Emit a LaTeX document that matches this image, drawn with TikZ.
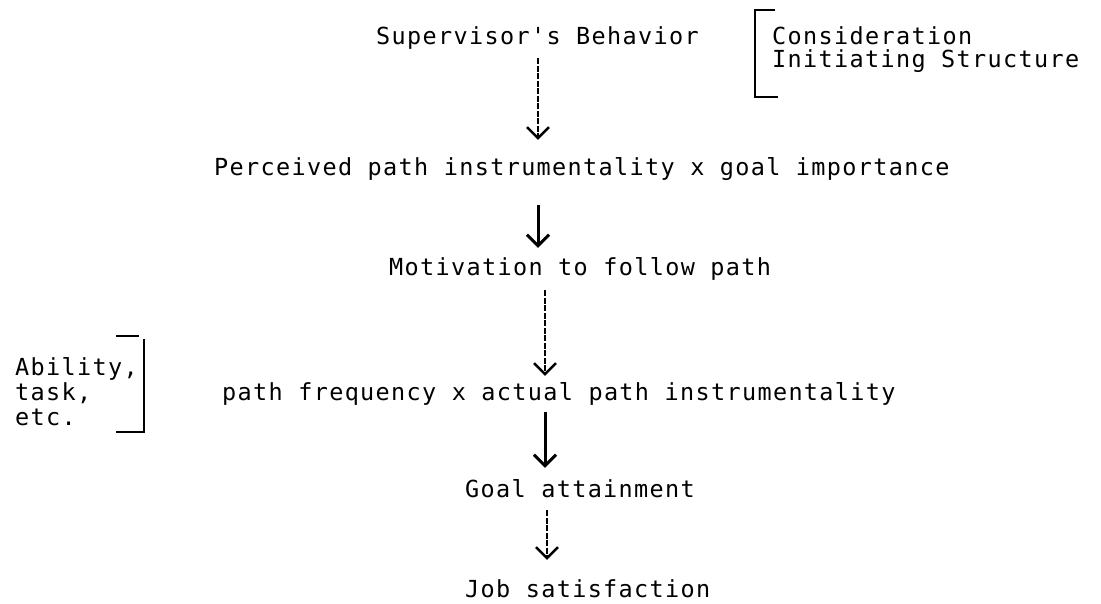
\documentclass[tikz,border=0pt]{standalone}
\usepackage{fontspec}
\newfontfamily\typew[LetterSpace=5.7]{DejaVu Sans Mono}
\usetikzlibrary{arrows.meta}
\begin{document}
\begin{tikzpicture}[x=1pt,y=-1pt,
  txt/.style={anchor=base west, inner sep=0pt, text height=18pt, text depth=5pt,
              font=\typew\fontsize{23.5}{28}\selectfont},
  thinarrow/.style={line width=1.4pt, dash pattern=on 6pt off 1.5pt,
              -{Straight Barb[length=11pt,width=22pt,line width=2.4pt]}},
  thickarrow/.style={line width=3pt,
              -{Straight Barb[length=11pt,width=22pt,line width=3pt]}},
  brk/.style={line width=2pt}]
\useasboundingbox[fill=white] (0,0) rectangle (1101,604);

% text lines
\node[txt] (sup)  at (376,45)  {Supervisor's Behavior};
\node[txt] (cons) at (772,45)  {Consideration};
\node[txt] (init) at (772,68)  {Initiating Structure};
\node[txt] (perc) at (214,176) {Perceived path instrumentality x goal importance};
\node[txt] (mot)  at (389,276) {Motivation to follow path};
\node[txt] (abil) at (15,375)  {Ability,};
\node[txt] (task) at (15,400)  {task,};
\node[txt] (etc)  at (15,425)  {etc.};
\node[txt] (freq) at (222,400) {path frequency x actual path instrumentality};
\node[txt] (goal) at (465,497) {Goal attainment};
\node[txt] (job)  at (465,597) {Job satisfaction};

% arrow columns
\coordinate (c1) at (538,0);
\coordinate (c3) at (545,0);
\coordinate (c4) at (545,0);
\coordinate (c5) at (547,0);

% arrows
\draw[thinarrow, shorten <=8pt, shorten >=18pt]  (sup.south -| c1)  -- (perc.north -| c1);
\draw[thickarrow, shorten <=24pt, shorten >=10pt] (perc.south -| c1) -- (mot.north -| c1);
\draw[thinarrow, shorten <=9pt, shorten >=6pt]   (mot.south -| c3)  -- (freq.north -| c3);
\draw[thickarrow, shorten <=7pt, shorten >=11pt] (freq.south -| c4) -- (goal.north -| c4);
\draw[thinarrow, shorten <=8pt, shorten >=19pt]  (goal.south -| c5) -- (job.north -| c5);

% right bracket
\draw[brk] (775,10) -- (755,10) -- (755,97) -- (778,97);
% left bracket
\draw[brk] (116,336) -- (139,336);
\draw[brk] (144,339) -- (144,432) -- (116,432);
\end{tikzpicture}
\end{document}
